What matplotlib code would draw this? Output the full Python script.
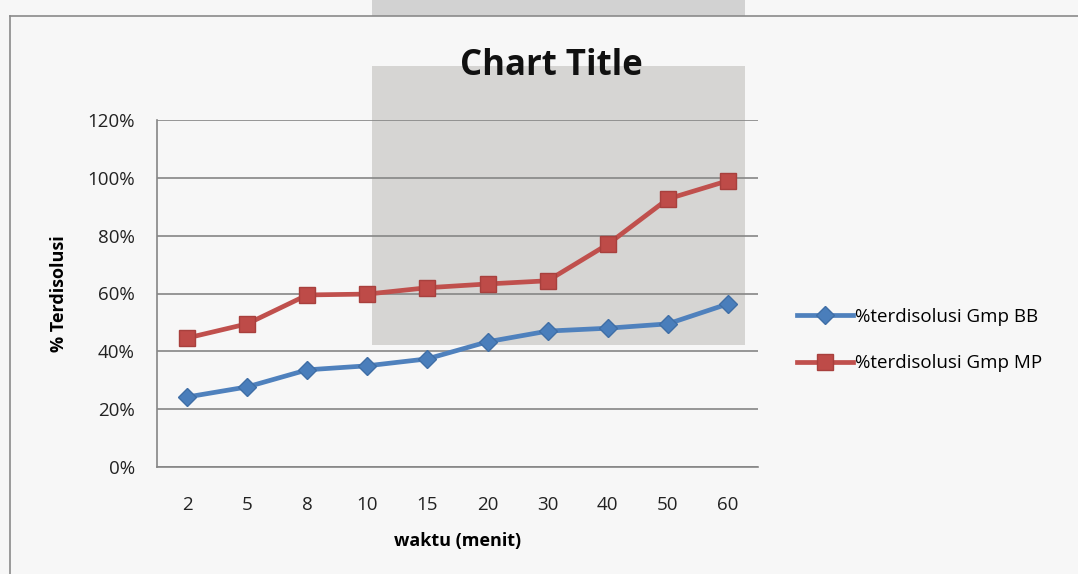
import matplotlib
matplotlib.use("Agg")
import matplotlib.pyplot as plt
from matplotlib.patches import Rectangle
from matplotlib.lines import Line2D
from matplotlib.ticker import FuncFormatter

# Data
categories = ["2", "5", "8", "10", "15", "20", "30", "40", "50", "60"]
bb_values = [24.2, 27.7, 33.6, 35.0, 37.4, 43.3, 47.0, 48.0, 49.5, 56.4]
mp_values = [44.6, 49.5, 59.5, 59.8, 62.0, 63.3, 64.4, 77.0, 92.7, 99.0]
series_names = ["%terdisolusi Gmp BB", "%terdisolusi Gmp MP"]
y_ticks = [0, 20, 40, 60, 80, 100, 120]

plt.rcParams['font.family'] = ['Open Sans', 'DejaVu Sans']

W, H = 1078, 574
fig = plt.figure(figsize=(W / 100, H / 100), dpi=100)
fig.patch.set_facecolor("#f7f7f7")

def fx(px):
    return px / W

def fy(py):
    return 1 - py / H

# Background decorations (grey blocks and chart border)
fig.add_artist(Rectangle((fx(372), fy(16)), fx(745 - 372), 16 / H, transform=fig.transFigure,
                         facecolor="#d2d2d2", edgecolor="none", zorder=0))
fig.add_artist(Rectangle((fx(372), fy(345)), fx(745 - 372), (345 - 66) / H, transform=fig.transFigure,
                         facecolor="#d6d5d3", edgecolor="none", zorder=0))
fig.add_artist(Line2D([fx(10), fx(10)], [fy(16), 0], transform=fig.transFigure, color="#8a8a8a", lw=1.2, zorder=1))
fig.add_artist(Line2D([fx(10), 1], [fy(16), fy(16)], transform=fig.transFigure, color="#8a8a8a", lw=1.2, zorder=1))

ax = fig.add_axes([fx(157), fy(467), fx(758 - 157), (467 - 120) / H])
ax.set_facecolor("none")
ax.set_zorder(2)

x = list(range(len(categories)))
ax.plot(x, bb_values, color="#4F81BD", lw=3.4, marker="D", markersize=9.5,
        markerfacecolor="#4A7EBB", markeredgecolor="#3F6EA6", label=series_names[0], zorder=3)
ax.plot(x, mp_values, color="#C0504D", lw=3.4, marker="s", markersize=11.5,
        markerfacecolor="#BE4B48", markeredgecolor="#A8403D", label=series_names[1], zorder=3)

ax.set_xlim(-0.5, len(categories) - 0.5)
ax.set_ylim(0, 120)
ax.set_yticks(y_ticks)
ax.yaxis.set_major_formatter(FuncFormatter(lambda v, p: f"{int(v)}%"))
ax.set_xticks(x)
ax.set_xticklabels(categories)
ax.grid(axis="y", color="#868686", lw=1.2)
ax.set_axisbelow(True)
for s in ["top", "right"]:
    ax.spines[s].set_visible(False)
for s in ["left", "bottom"]:
    ax.spines[s].set_color("#868686")
    ax.spines[s].set_linewidth(1.2)
ax.tick_params(axis="both", length=0, labelsize=13.5, colors="#222222")
ax.tick_params(axis="x", pad=21)
ax.tick_params(axis="y", pad=16)

ax.set_xlabel("waktu (menit)", fontsize=13, fontweight="bold", labelpad=13)
ax.set_ylabel("% Terdisolusi", fontsize=13, fontweight="bold", labelpad=14)

fig.text(fx(551), fy(66), "Chart Title", ha="center", va="center", fontsize=25, fontweight="bold", color="#111111")

leg = fig.legend(handles=ax.get_lines(), labels=series_names, loc="center left",
                 bbox_to_anchor=(fx(780), fy(340)), frameon=False, fontsize=13.5,
                 handlelength=3.0, handletextpad=0.1, labelspacing=1.5)

fig.savefig("out.png", dpi=100, facecolor=fig.get_facecolor())
